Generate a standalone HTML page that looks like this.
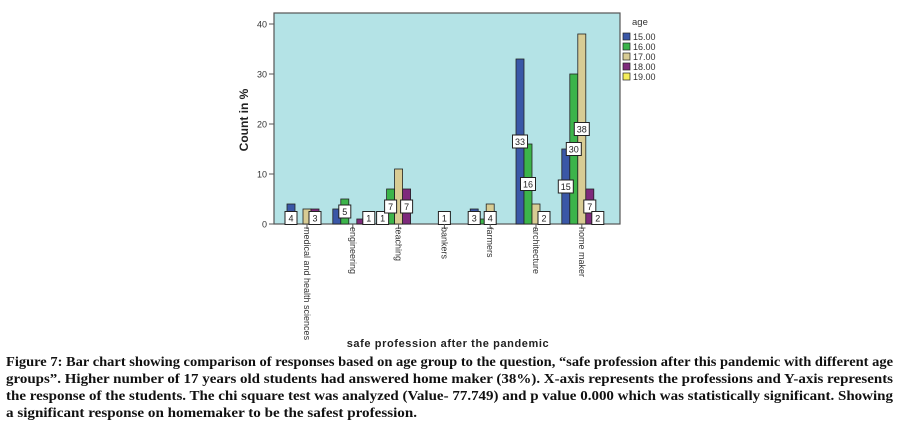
<!DOCTYPE html>
<html><head><meta charset="utf-8"><style>
html,body{margin:0;padding:0;background:#fff;}
svg{display:block;}
</style></head><body>
<svg id="chart" width="901" height="424" xmlns="http://www.w3.org/2000/svg" font-family="Liberation Sans, Arial, sans-serif">
<rect x="274" y="13" width="346" height="211" fill="#b4e3e6" stroke="#555" stroke-width="1.2"/>
<g id="yaxis"></g>
<g id="bars"></g>
<g id="xaxis"></g>
<text x="248" y="120" transform="rotate(-90 248 120)" text-anchor="middle" font-size="12" font-weight="bold" fill="#222">Count in %</text>
<text x="448" y="347" text-anchor="middle" font-size="11" font-weight="bold" fill="#222" letter-spacing="0.6">safe profession after the pandemic</text>
<g id="legend">
<text x="632" y="25" font-size="9.5" fill="#333">age</text>
</g>
<g font-family="Liberation Serif, serif" font-weight="bold" font-size="13.5" fill="#111">
<text x="6" y="366" textLength="887" lengthAdjust="spacingAndGlyphs">Figure 7: Bar chart showing comparison of responses based on age group to the question, “safe profession after this pandemic with different age</text>
<text x="6" y="383" textLength="887" lengthAdjust="spacingAndGlyphs">groups”. Higher number of 17 years old students had answered home maker (38%). X-axis represents the professions and Y-axis represents</text>
<text x="6" y="400" textLength="887" lengthAdjust="spacingAndGlyphs">the response of the students. The chi square test was analyzed (Value- 77.749) and p value 0.000 which was statistically significant. Showing</text>
<text x="6" y="417" textLength="411" lengthAdjust="spacingAndGlyphs">a significant response on homemaker to be the safest profession.</text>
</g>
</svg>
<script>
const categories = ["medical and health sciences","engineering","teaching","bankers","farmers","architecture","home maker"];
const seriesNames = ["15.00","16.00","17.00","18.00","19.00"];
const s15 = [4,3,1,0,3,33,15];
const s16 = [0,5,7,0,1,16,30];
const s17 = [3,0,11,1,4,4,38];
const s18 = [3,1,7,0,0,2,7];
const s19 = [0,1,0,0,0,0,2];
const showLabel15 = [1,0,1,0,1,1,1];
const showLabel16 = [0,1,1,0,0,1,1];
const showLabel17 = [0,0,0,1,1,0,1];
const showLabel18 = [1,0,1,0,0,1,1];
const showLabel19 = [0,1,0,0,0,0,1];
const yTicks = [0,10,20,30,40];

const series=[s15,s16,s17,s18,s19];
const labels=[showLabel15,showLabel16,showLabel17,showLabel18,showLabel19];
const colors=["#3a57a7","#3cb44a","#d8cc94","#7e2a7c","#f5ee5a"];
const NS="http://www.w3.org/2000/svg";
const y0=224, yTop=24, vMax=40;
function yScale(v){return y0-(v/vMax)*(y0-yTop);}
const x0=307, step=45.8;
function xScale(i){return x0+i*step;}
const bw=8;
function mk(tag,attrs,parent){const e=document.createElementNS(NS,tag);for(const k in attrs)e.setAttribute(k,attrs[k]);parent.appendChild(e);return e;}

const ya=document.getElementById('yaxis');
yTicks.forEach(t=>{
  const y=yScale(t);
  const l=mk('line',{x1:269,x2:274,y1:y,y2:y,stroke:'#555'},ya);
  
  
  const tx=mk('text',{x:267,y:y+3.5,'text-anchor':'end','font-size':'9',fill:'#333'},ya);
  tx.textContent=t;
  
  
});

const bg=document.getElementById('bars');
const lblG=mk('g',{},bg);
categories.forEach((c,i)=>{
  const cx=xScale(i);
  series.forEach((s,j)=>{
    const bx=cx+(j-2)*bw-bw/2;
    const v=s[i];
    if(v>0){
      const r=mk('rect',{x:bx,y:yScale(v),width:bw,height:y0-yScale(v),fill:colors[j],stroke:'#222','stroke-width':0.8},bg);
      
      
    }
    if(labels[j][i] && v>0){
      const ly=v>=5?yScale(v/2):y0-6;
      const w=String(v).length>1?15:12;
      const br=mk('rect',{x:bx+bw/2-w/2,y:ly-6.5,width:w,height:13,fill:'#fff',stroke:'#222','stroke-width':1},lblG);
      
      
      const t=mk('text',{x:bx+bw/2,y:ly+3.5,'text-anchor':'middle','font-size':'9',fill:'#222'},lblG);
      t.textContent=v;
      
      
    }
  });
});
bg.appendChild(lblG);

const xa=document.getElementById('xaxis');
categories.forEach((c,i)=>{
  const x=xScale(i);
  const l=mk('line',{x1:x,x2:x,y1:224,y2:229,stroke:'#555'},xa);
  
  
  const t=mk('text',{x:0,y:0,'font-size':'9',fill:'#333',transform:`translate(${x-3},227) rotate(90)`},xa);
  t.textContent=c;
  
  
});

const lg=document.getElementById('legend');
seriesNames.forEach((n,j)=>{
  const y=33+j*10;
  const r=mk('rect',{x:623,y:y,width:7,height:7,fill:colors[j],stroke:'#222','stroke-width':0.7},lg);
  
  
  const t=mk('text',{x:633,y:y+7,'font-size':'9',fill:'#333'},lg);
  t.textContent=n;
  
  
});
</script>
</body></html>
